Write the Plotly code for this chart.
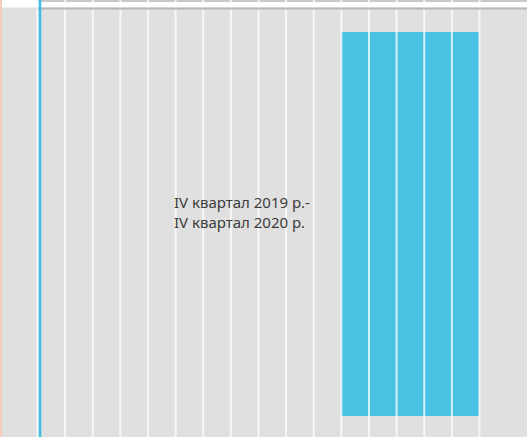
import plotly.graph_objects as go

# data
periods = [11, 12, 13, 14, 15]
bar_start = [4.8, 4.8, 4.8, 4.8, 4.8]
bar_end = [92.7, 92.7, 92.7, 92.7, 92.7]
grid_ticks = list(range(0, 17))
marker_pos = 0.09
label_text = "IV квартал 2019 р.-<br>IV квартал 2020 р."

W, H = 527, 437
bg = "#dfe0df"
blue = "#49c1e3"

fig = go.Figure()
fig.add_trace(go.Bar(
    x=periods,
    y=[e - s for s, e in zip(bar_start, bar_end)],
    base=bar_start,
    width=1,
    offset=0,
    marker=dict(color=blue, line=dict(width=0)),
    hoverinfo="skip",
    showlegend=False,
))

def px_x(p):
    return p / W

def px_y(p):
    return 1 - p / H

shapes = [
    # top strip
    dict(type="rect", xref="paper", yref="paper", x0=0, x1=px_x(38), y0=px_y(7.5), y1=1,
         fillcolor="white", line_width=0, layer="below"),
    dict(type="rect", xref="paper", yref="paper", x0=px_x(38), x1=1, y0=px_y(2), y1=1,
         fillcolor="#c7c8c7", line_width=0, layer="below"),
    dict(type="rect", xref="paper", yref="paper", x0=px_x(38), x1=1, y0=px_y(7.5), y1=px_y(2),
         fillcolor="white", line_width=0, layer="below"),
]
# grid lines drawn over the bars, semi-transparent white
for t in grid_ticks:
    shapes.append(dict(type="line", xref="x", yref="paper", x0=t, x1=t, y0=0, y1=1,
                       line=dict(color="rgba(255,255,255,0.75)", width=2), layer="above"))
shapes += [
    dict(type="rect", xref="paper", yref="paper", x0=px_x(38), x1=1, y0=px_y(9.5), y1=px_y(7.5),
         fillcolor="#b6b8b6", line_width=0, layer="above"),
    # left edge
    dict(type="rect", xref="paper", yref="paper", x0=0, x1=px_x(2), y0=0, y1=1,
         fillcolor="#f6cdb8", line_width=0, layer="above"),
    # current-date marker
    dict(type="line", xref="x", yref="paper", x0=marker_pos, x1=marker_pos, y0=0, y1=1,
         line=dict(color="#3dbde4", width=2.5), layer="above"),
]

fig.update_layout(
    width=W, height=H,
    margin=dict(l=0, r=0, t=0, b=0),
    paper_bgcolor=bg, plot_bgcolor=bg,
    shapes=shapes,
    bargap=0,
    xaxis=dict(range=[-1.3575, 17.72], tickvals=grid_ticks, showticklabels=False,
               showgrid=False, zeroline=False, fixedrange=True),
    yaxis=dict(range=[0, 100], showgrid=False, showticklabels=False, zeroline=False,
               fixedrange=True),
    annotations=[dict(
        text=label_text, xref="paper", yref="paper",
        x=px_x(172), y=px_y(212), xanchor="left", yanchor="middle",
        align="left", showarrow=False,
        font=dict(family="Noto Sans", size=15, color="#3c3c3c"),
    )],
)

fig.write_html("out.html", config={"displayModeBar": False},
               post_script="document.body.style.margin='0';")
